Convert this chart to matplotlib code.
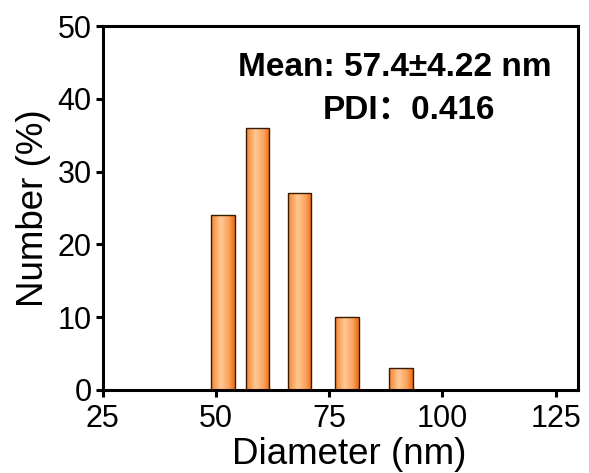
import numpy as np
import matplotlib
import matplotlib.pyplot as plt
from matplotlib.colors import LinearSegmentedColormap

plt.rcParams["font.family"] = ["Liberation Sans", "Noto Sans CJK SC", "DejaVu Sans"]

# Data (log-spaced bins)
diameter = [51.5, 59.2, 68.4, 78.9, 90.8]
number_pct = [24, 36, 27, 10, 3]
bar_width = 5.2

x_ticks = [25, 50, 75, 100, 125]
y_ticks = [0, 10, 20, 30, 40, 50]

mean_text = "Mean: 57.4\u00b14.22 nm"
pdi_text = "PDI\uff1a0.416"

fig = plt.figure(figsize=(5.89, 4.73), dpi=100)
ax = fig.add_axes([0.1744, 0.1755, 0.8076, 0.7695])

# bar outlines, gradient filled below via clipped images
bars = ax.bar(diameter, number_pct, width=bar_width, facecolor="none",
              edgecolor="#3a1a00", linewidth=1.0, zorder=3)

grad_cmap = LinearSegmentedColormap.from_list(
    "bar_grad",
    [(0.0, "#f5822e"), (0.4, "#ffc994"), (0.75, "#fba25a"), (1.0, "#ea6a14")])
grad = np.linspace(0, 1, 256).reshape(1, -1)
for b in bars:
    x0, y0 = b.get_x(), b.get_y()
    im = ax.imshow(grad, cmap=grad_cmap, aspect="auto", zorder=2,
                   extent=[x0, x0 + b.get_width(), y0, y0 + b.get_height()])
    im.set_clip_path(b)

ax.set_xlim(25, 130)
ax.set_ylim(0, 50)
ax.set_xticks(x_ticks)
ax.set_yticks(y_ticks)

for s in ax.spines.values():
    s.set_linewidth(2.2)
ax.tick_params(direction="out", length=5, width=2.2, labelsize=22)
ax.tick_params(axis="x", pad=5)
ax.tick_params(axis="y", pad=3)

ax.set_xlabel("Diameter (nm)", fontsize=26.5)
ax.xaxis.set_label_coords(0.519, -0.128)
ax.set_ylabel("Number (%)", fontsize=26.5, labelpad=5)

ax.text(395 / 589, 1 - 68 / 473, mean_text, transform=fig.transFigure,
        ha="center", va="center", fontsize=24, fontweight="bold")
ax.text(409 / 589, 1 - 110 / 473, pdi_text, transform=fig.transFigure,
        ha="center", va="center", fontsize=24, fontweight="bold")

fig.savefig("out.png", dpi=100)
